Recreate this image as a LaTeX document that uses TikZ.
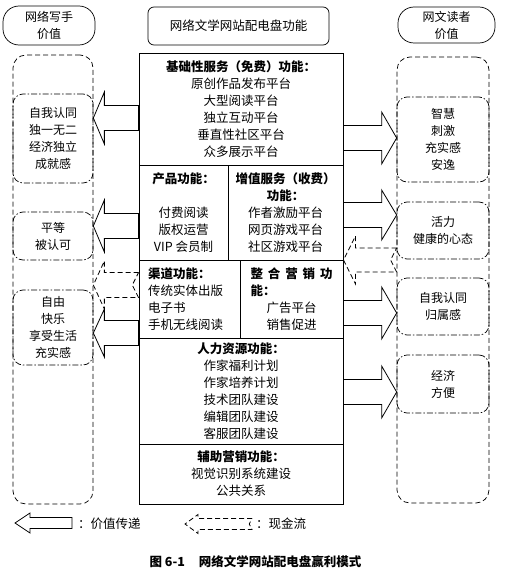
\documentclass[tikz,border=0pt]{standalone}
\usepackage{fontspec}
\setmainfont{Noto Sans CJK SC}
\usetikzlibrary{calc}

\newcommand\bodyfont{\fontsize{12.5pt}{17pt}\selectfont}
\newcommand\sidefont{\fontsize{12pt}{17pt}\selectfont}

% hollow block arrow: tail, tip, half shaft, half head, head length
\newcommand\valuearrow[5]{%
  \draw[valarrow] let \p1=#1, \p2=#2, \n1={(\x1>\x2)*2-1} in
    (\x1,\y1+#3) -- (\x2+\n1*#5,\y1+#3) -- (\x2+\n1*#5,\y1+#4) -- (\x2,\y1)
    -- (\x2+\n1*#5,\y1-#4) -- (\x2+\n1*#5,\y1-#3) -- (\x1,\y1-#3) -- cycle;}
% dashed block arrow with notched tail
\newcommand\casharrow[5]{%
  \draw[cashflow] let \p1=#1, \p2=#2, \n1={(\x1>\x2)*2-1} in
    (\x1,\y1+#3) -- (\x2+\n1*#5,\y1+#3) -- (\x2+\n1*#5,\y1+#4) -- (\x2,\y1)
    -- (\x2+\n1*#5,\y1-#4) -- (\x2+\n1*#5,\y1-#3) -- (\x1,\y1-#3)
    -- (\x1-\n1*#3*0.5,\y1) -- cycle;}

\begin{document}
\begin{tikzpicture}[
    x=1pt, y=-1pt,
    headbox/.style={draw, line width=0.7pt, align=center, font=\sidefont, inner sep=0pt},
    frame/.style={draw, line width=0.7pt, dash pattern=on 5pt off 3pt, rounded corners=13pt},
    valbox/.style={draw, line width=0.7pt, dash pattern=on 6pt off 2pt on 1.5pt off 2pt,
                   rounded corners=10pt, align=center, font=\sidefont, inner sep=0pt},
    sect/.style={draw, line width=0.9pt, inner sep=0pt, align=center, font=\bodyfont},
    valarrow/.style={draw, line width=0.8pt, line join=miter},
    cashflow/.style={draw, line width=0.8pt, dash pattern=on 5pt off 3pt},
    legendtext/.style={font=\bodyfont, inner sep=0pt},
]
\useasboundingbox (0,0) rectangle (507,578);

% ====== Headers ======
\node[headbox, rounded corners=16pt, minimum width=92pt, minimum height=39pt] (whead) at (49,25.5) {网络写手\\价值};
\node[headbox, rounded corners=6pt, minimum width=181pt, minimum height=38pt, font=\bodyfont] (fhead) at (238.5,26) {网络文学网站配电盘功能};
\node[headbox, rounded corners=16pt, minimum width=97pt, minimum height=36pt] (rhead) at (446.5,25) {网文读者\\价值};

% ====== Outer value frames ======
\node[frame, minimum width=80pt, minimum height=449pt] (wouter) at (53,279.5) {};
\node[frame, minimum width=92pt, minimum height=446pt] (router) at (443,280) {};

% ====== Central board ======
\node[sect, minimum width=204pt, minimum height=112pt] (basic) at (241,109)
  {\textbf{基础性服务（免费）功能：}\\原创作品发布平台\\大型阅读平台\\独立互动平台\\垂直性社区平台\\众多展示平台};
\node[sect, minimum width=89pt, minimum height=95pt] (product) at (183.5,212.5)
  {\textbf{产品功能：}\\[17pt]付费阅读\\版权运营\\VIP 会员制};
\node[sect, minimum width=115pt, minimum height=95pt] (addval) at (285.5,212.5)
  {\textbf{增值服务（收费）}\\\textbf{功能：}\\作者激励平台\\网页游戏平台\\社区游戏平台};
\node[sect, minimum width=101pt, minimum height=78pt, text width=83pt, inner xsep=9pt, align=left] (channel) at (189.5,299)
  {\textbf{渠道功能：}\\传统实体出版\\电子书\\手机无线阅读};
\node[sect, minimum width=103pt, minimum height=78pt, text width=82pt, inner xsep=10.5pt] (market) at (291.5,299)
  {\makebox[82pt]{\bfseries 整\hfill 合\hfill 营\hfill 销\hfill 功}\\\makebox[82pt][l]{\bfseries 能：}\\广告平台\\销售促进};
\node[sect, minimum width=204pt, minimum height=106pt] (hr) at (241,391)
  {\textbf{人力资源功能：}\\作家福利计划\\作家培养计划\\技术团队建设\\编辑团队建设\\客服团队建设};
\node[sect, minimum width=204pt, minimum height=60pt] (aux) at (241,474)
  {\textbf{辅助营销功能：}\\视觉识别系统建设\\公共关系};

% ====== Writer values ======
\node[valbox, minimum width=80pt, minimum height=89pt] (wv1) at (53,138.5) {自我认同\\独一无二\\经济独立\\成就感};
\node[valbox, minimum width=80pt, minimum height=48pt] (wv2) at (53,236) {平等\\被认可};
\node[valbox, minimum width=80pt, minimum height=75pt] (wv3) at (53,327.5) {自由\\快乐\\享受生活\\充实感};

% ====== Reader values ======
\node[valbox, minimum width=92pt, minimum height=85pt] (rv1) at (443,139.5) {智慧\\刺激\\充实感\\安逸};
\node[valbox, minimum width=92pt, minimum height=57pt] (rv2) at (443,230.5) {活力\\健康的心态};
\node[valbox, minimum width=92pt, minimum height=57pt] (rv3) at (443,306.5) {自我认同\\归属感};
\node[valbox, minimum width=92pt, minimum height=58pt] (rv4) at (443,384) {经济\\方便};

% ====== Value transfer (hollow arrows) ======
\valuearrow{(basic.west |- 0,118)}{(wv1.east |- 0,118)}{12.5pt}{26pt}{11pt}
\valuearrow{(product.west |- 0,226)}{(wv2.east |- 0,226)}{12.5pt}{26pt}{11pt}
\valuearrow{(channel.west |- 0,333)}{(wv3.east |- 0,333)}{12.5pt}{24pt}{11pt}
\valuearrow{(basic.east |- 0,138)}{(rv1.west |- 0,138)}{12.5pt}{26pt}{15pt}
\valuearrow{(addval.east |- 0,215)}{(rv2.west |- 0,215)}{12.5pt}{25pt}{15pt}
\valuearrow{(market.east |- 0,313)}{(rv3.west |- 0,313)}{12.5pt}{26pt}{15pt}
\valuearrow{(hr.east |- 0,392)}{(rv4.west |- 0,392)}{12.5pt}{26pt}{15pt}

% ====== Cash flow (dashed arrows) ======
\casharrow{(channel.west |- 0,285)}{(wouter.east |- 0,285)}{12.5pt}{24pt}{11pt}
\casharrow{(router.west |- 0,260)}{(market.east |- 0,260)}{12pt}{24pt}{12pt}

% ====== Legend ======
\coordinate (lgv1) at (72,523);
\coordinate (lgv2) at (15,523);
\valuearrow{(lgv1)}{(lgv2)}{5.5pt}{10pt}{15pt}
\node[legendtext, anchor=west] (lgvt) at (78,524) {：价值传递};
\coordinate (lgc1) at (252,524);
\coordinate (lgc2) at (185,524);
\casharrow{(lgc1)}{(lgc2)}{5.5pt}{9.5pt}{13pt}
\node[legendtext, anchor=west] (lgct) at (256,524) {：现金流};

% ====== Caption ======
\node[font=\bodyfont\bfseries] (caption) at (255.5,562) {图 6-1\hspace{14pt}网络文学网站配电盘赢利模式};

\end{tikzpicture}
\end{document}
